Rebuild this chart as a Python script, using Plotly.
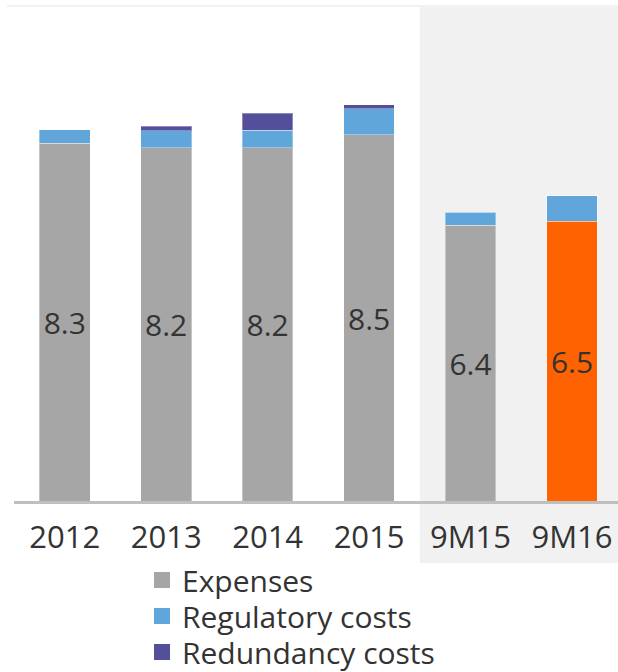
import plotly.graph_objects as go

categories = ["2012", "2013", "2014", "2015", "9M15", "9M16"]
expenses = [8.3, 8.2, 8.2, 8.5, 6.4, 6.5]
regulatory = [0.31, 0.39, 0.40, 0.60, 0.30, 0.59]
redundancy = [0.0, 0.10, 0.39, 0.09, 0.0, 0.0]
expense_labels = ["8.3", "8.2", "8.2", "8.5", "6.4", "6.5"]
series_names = ["Expenses", "Regulatory costs", "Redundancy costs"]

GREY = "#a6a6a6"
BLUE = "#60a6da"
PURPLE = "#534f9a"
ORANGE = "#ff6200"
TEXT = "#333333"
FONT = "Open Sans"

exp_colors = [GREY] * 5 + [ORANGE]
EDGE = dict(color="rgba(255,255,255,0.35)", width=1)

fig = go.Figure()
fig.add_trace(go.Bar(
    x=categories, y=expenses, name=series_names[0], showlegend=False,
    marker=dict(color=exp_colors, line=EDGE),
    text=expense_labels, textposition="inside", insidetextanchor="middle",
    textangle=0, textfont=dict(size=30, color=TEXT, family=FONT),
    constraintext="none",
))
fig.add_trace(go.Bar(
    x=categories, y=regulatory, name=series_names[1], showlegend=False,
    marker=dict(color=BLUE, line=EDGE),
))
fig.add_trace(go.Bar(
    x=categories, y=redundancy, name=series_names[2], showlegend=False,
    marker=dict(color=PURPLE, line=EDGE),
))

W, H = 618, 672
ml, mr, mt, mb = 14, 0, 7, 0
pw = W - ml - mr
ph = H - mt - mb
base_px = 502          # pixel row of value 0
ppu = 43.23            # pixels per unit
d0 = (H - base_px) / ph
ytop = (base_px - mt) / ppu


def py(p):
    return (H - p) / ph


def px(p):
    return (p - ml) / pw


# legend entries with larger square symbols, each in its own legend
legend_ids = ["legend", "legend2", "legend3"]
legend_rows = [580, 616, 652]
for nm, col, lid in zip(series_names, [GREY, BLUE, PURPLE], legend_ids):
    fig.add_trace(go.Scatter(
        x=[None], y=[None], mode="markers", name=nm, legend=lid,
        marker=dict(symbol="square", size=18, color=col),
    ))

legend_common = dict(
    xref="paper", yref="paper", xanchor="left", yanchor="middle",
    bgcolor="rgba(0,0,0,0)", font=dict(size=30, color=TEXT, family=FONT),
    itemsizing="trace",
)

layout_legends = {}
for lid, row in zip(legend_ids, legend_rows):
    layout_legends[lid] = dict(legend_common, x=px(142), y=py(row))

fig.update_layout(
    width=W, height=H,
    margin=dict(l=ml, r=mr, t=mt, b=mb, autoexpand=False),
    paper_bgcolor="white", plot_bgcolor="rgba(0,0,0,0)",
    barmode="stack", bargap=0.5,
    font=dict(family=FONT, color=TEXT),
    xaxis=dict(
        range=[-0.5, -0.5 + pw / 101.45], showgrid=False, zeroline=False,
        showline=True, linecolor="#bfbfbf", linewidth=3,
        anchor="free", position=d0,
        ticks="", tickfont=dict(size=31, color=TEXT, family=FONT),
        ticklabelstandoff=7, fixedrange=True,
    ),
    yaxis=dict(range=[0, ytop], domain=[d0, 1], visible=False, fixedrange=True),
    showlegend=True,
    shapes=[
        dict(type="rect", xref="x", yref="paper", x0=3.5, x1=5.6,
             y0=py(563), y1=1.0,
             fillcolor="#f1f1f1", line=dict(width=0), layer="below"),
        dict(type="rect", xref="paper", yref="paper", x0=px(7), x1=1.0,
             y0=1.0, y1=py(5),
             fillcolor="#f2f2f2", line=dict(width=0), layer="below"),
    ],
    **layout_legends,
)

fig.write_html(
    "out.html",
    config={"displayModeBar": False},
    post_script="document.body.style.margin='0px';document.body.style.overflow='hidden';",
)
